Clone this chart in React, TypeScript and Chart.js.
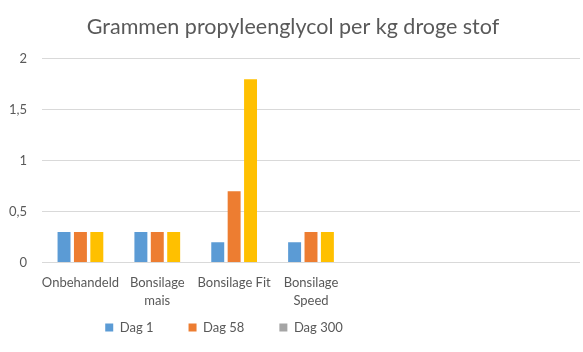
import React, { useEffect, useRef } from "react";
import { Chart, registerables } from "chart.js";

Chart.register(...registerables);

const categories: (string | string[])[] = [
  "Onbehandeld",
  ["Bonsilage", "mais"],
  "Bonsilage Fit",
  ["Bonsilage", "Speed"],
  "",
  "",
  "",
];
const dag1: (number | null)[] = [0.3, 0.3, 0.2, 0.2, null, null, null];
const dag58: (number | null)[] = [0.3, 0.3, 0.7, 0.3, null, null, null];
const dag300: (number | null)[] = [0.3, 0.3, 1.8, 0.3, null, null, null];
const seriesNames = ["Dag 1", "Dag 58", "Dag 300"];
const yTicks = [0, 0.5, 1, 1.5, 2];

const FONT = "Lato, 'Open Sans', sans-serif";
const TXT = "#595959";
const LEGEND_OVERLAP = 35;
const LEGEND_CENTER = 224;

const legendTweak = {
  id: "legendTweak",
  beforeLayout(chart: any) {
    const l = chart.legend;
    if (l && !l._tweaked) {
      const orig = l.fit;
      l.fit = function () {
        orig.call(this);
        this.height = Math.max(0, this.height - LEGEND_OVERLAP);
      };
      l._tweaked = true;
    }
  },
  afterLayout(chart: any) {
    const l = chart.legend;
    if (l) {
      l.top -= LEGEND_OVERLAP;
      l.right = 2 * LEGEND_CENTER - l.left;
    }
  },
};

export default function App() {
  const ref = useRef<HTMLCanvasElement>(null);
  useEffect(() => {
    document.body.style.margin = "0";
    const ctx = ref.current!;
    const barColors = ["#5B9BD5", "#ED7D31", "#FFC000"];
    const legendColors = ["#5B9BD5", "#ED7D31", "#A5A5A5"];
    const chart = new Chart(ctx, {
      type: "bar",
      plugins: [legendTweak],
      data: {
        labels: categories,
        datasets: [dag1, dag58, dag300].map((d, i) => ({
          label: seriesNames[i],
          data: d,
          backgroundColor: barColors[i],
          categoryPercentage: 0.64,
          barPercentage: 0.79,
        })),
      },
      options: {
        animation: false,
        responsive: false,
        maintainAspectRatio: false,
        layout: { padding: { left: 6, right: 3, top: 4, bottom: 8 } },
        plugins: {
          title: {
            display: true,
            text: "Grammen propyleenglycol per kg droge stof",
            color: TXT,
            font: { family: FONT, size: 21.5, weight: "normal" },
            padding: { top: 10, bottom: 19 },
          },
          legend: {
            position: "bottom",
            labels: {
              color: TXT,
              font: { family: FONT, size: 13 },
              boxWidth: 8,
              boxHeight: 8,
              padding: 35,
              generateLabels: () =>
                seriesNames.map((n, i) => ({
                  text: n,
                  fillStyle: legendColors[i],
                  strokeStyle: legendColors[i],
                  lineWidth: 0,
                  fontColor: TXT,
                  datasetIndex: i,
                  hidden: false,
                })),
            },
          },
          tooltip: { enabled: false },
        },
        scales: {
          x: {
            grid: { display: false, drawTicks: false },
            border: { display: false },
            ticks: {
              color: TXT,
              font: { family: FONT, size: 13, lineHeight: 1.4 },
              maxRotation: 0,
              autoSkip: false,
              padding: 11,
            },
          },
          y: {
            min: 0,
            max: 2,
            afterBuildTicks: (s: any) => {
              s.ticks = yTicks.map((v) => ({ value: v }));
            },
            afterFit: (s: any) => {
              s.width = 36;
            },
            grid: { color: "#D9D9D9", drawTicks: false },
            border: { display: false },
            ticks: {
              color: TXT,
              font: { family: FONT, size: 13 },
              padding: 15,
              callback: (v: any) => String(v).replace(".", ","),
            },
          },
        },
      },
    });
    return () => chart.destroy();
  }, []);
  return (
    <div style={{ position: "absolute", left: 0, top: 0, width: 583, height: 352, background: "#fff" }}>
      <canvas ref={ref} width={583} height={352} />
    </div>
  );
}
